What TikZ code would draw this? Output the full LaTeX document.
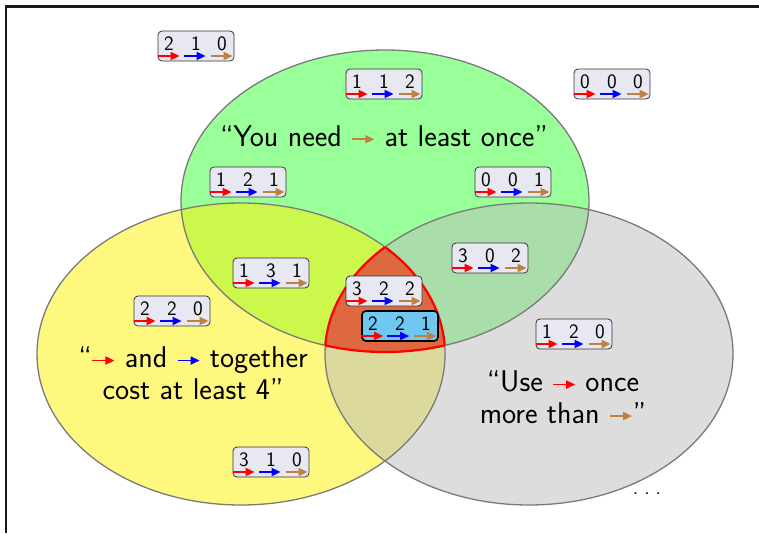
\documentclass[tikz,border=0pt]{standalone}
\usepackage{fontspec}
\setsansfont{Latin Modern Sans}
\usetikzlibrary{arrows.meta,calc}
\definecolor{boxfill}{RGB}{232,232,242}
\definecolor{selfill}{RGB}{110,200,240}
\definecolor{cbrown}{RGB}{192,128,64}
\definecolor{centerfill}{RGB}{222,104,64}
\definecolor{outl}{RGB}{122,122,122}
\definecolor{grayfill}{RGB}{187,187,187}
\tikzset{
  cbox/.style={draw=black!80, fill=boxfill, rounded corners=4pt, minimum width=76pt, minimum height=30pt, inner sep=0pt, line width=0.8pt},
  selbox/.style={fill=selfill, draw=black, line width=1.6pt},
  digit/.style={font=\sffamily\fontsize{20.5}{20.5}\selectfont, inner sep=0pt},
  carr/.style={line width=1.8pt, -{Triangle[length=9pt,width=8pt]}},
  bigtext/.style={font=\sffamily\fontsize{30}{31.5}\selectfont, align=center, inner sep=0pt},
  ell/.style={x radius=204pt, y radius=151pt},
}
\newcommand\inarr[1]{\tikz[baseline={(0,-7pt)},x=1pt,y=1pt]\draw[line width=1.8pt, -{Triangle[length=9pt,width=8pt]}, #1](0,0)--(22,0);}
\newcommand\costbox[6][]{%
  \node[cbox,#1] (#2) at (#3) {};
  \node[digit] (#2a) at ($(#2.center)+(-27,-2)$) {#4};
  \node[digit] (#2b) at ($(#2.center)+(0,-2)$) {#5};
  \node[digit] (#2c) at ($(#2.center)+(26,-2)$) {#6};
  \draw[carr,red] ($(#2.west)+(0,10)$) -- ++(22,0);
  \draw[carr,blue] ($(#2.west)+(26,10)$) -- ++(22,0);
  \draw[carr,cbrown] ($(#2.west)+(53,10)$) -- ++(22,0);
}
\begin{document}
\begin{tikzpicture}[x=1pt,y=-1pt]
\useasboundingbox (0,0) rectangle (759,533);
% region fills
\fill[green, fill opacity=0.4] (385,201) ellipse[ell];
\fill[yellow, fill opacity=0.5] (241,354) ellipse[ell];
\fill[grayfill, fill opacity=0.5] (529,354) ellipse[ell];
% outlines
\draw[outl, line width=1.3pt] (385,201) ellipse[ell];
\draw[outl, line width=1.3pt] (241,354) ellipse[ell];
\draw[outl, line width=1.3pt] (529,354) ellipse[ell];
% center
\begin{scope}
  \clip (385,201) ellipse[ell];
  \clip (241,354) ellipse[ell];
  \fill[centerfill] (529,354) ellipse[ell];
  \draw[red, line width=2.2pt] (529,354) ellipse[ell];
\end{scope}
\begin{scope}
  \clip (385,201) ellipse[ell];
  \clip (529,354) ellipse[ell];
  \draw[red, line width=2.2pt] (241,354) ellipse[ell];
\end{scope}
\begin{scope}
  \clip (241,354) ellipse[ell];
  \clip (529,354) ellipse[ell];
  \draw[red, line width=2.2pt] (385,201) ellipse[ell];
\end{scope}
% frame
\draw[line width=2.5pt, black!90] (759,6.5) -- (6,6.5) -- (6,533);
% boxes
\costbox{b210}{196,46}{2}{1}{0}
\costbox{b112}{384,84}{1}{1}{2}
\costbox{b000}{612,84}{0}{0}{0}
\costbox{b121}{248,182}{1}{2}{1}
\costbox{b001}{513,182}{0}{0}{1}
\costbox{b131}{271,273}{1}{3}{1}
\costbox{b302}{490,258}{3}{0}{2}
\costbox{b220}{172,311}{2}{2}{0}
\costbox{b322}{384,291}{3}{2}{2}
\costbox[selbox]{b221}{400,326}{2}{2}{1}
\costbox{b120}{574,334}{1}{2}{0}
\costbox{b310}{271,462}{3}{1}{0}
% texts
\node[bigtext] (tgreen) at (384,136) {``You need \inarr{cbrown} at least once''};
\node[bigtext] (tyellow) at (193,373) {``\inarr{red} and \inarr{blue} together\\cost at least 4''};
\node[bigtext] (tgray) at (563,397) {``Use \inarr{red} once\\more than \inarr{cbrown}''};
\node[font=\sffamily\fontsize{21}{21}\selectfont, inner sep=0pt] (dots) at (647,494) {.\kern6pt.\kern6pt.};
\end{tikzpicture}
\end{document}
